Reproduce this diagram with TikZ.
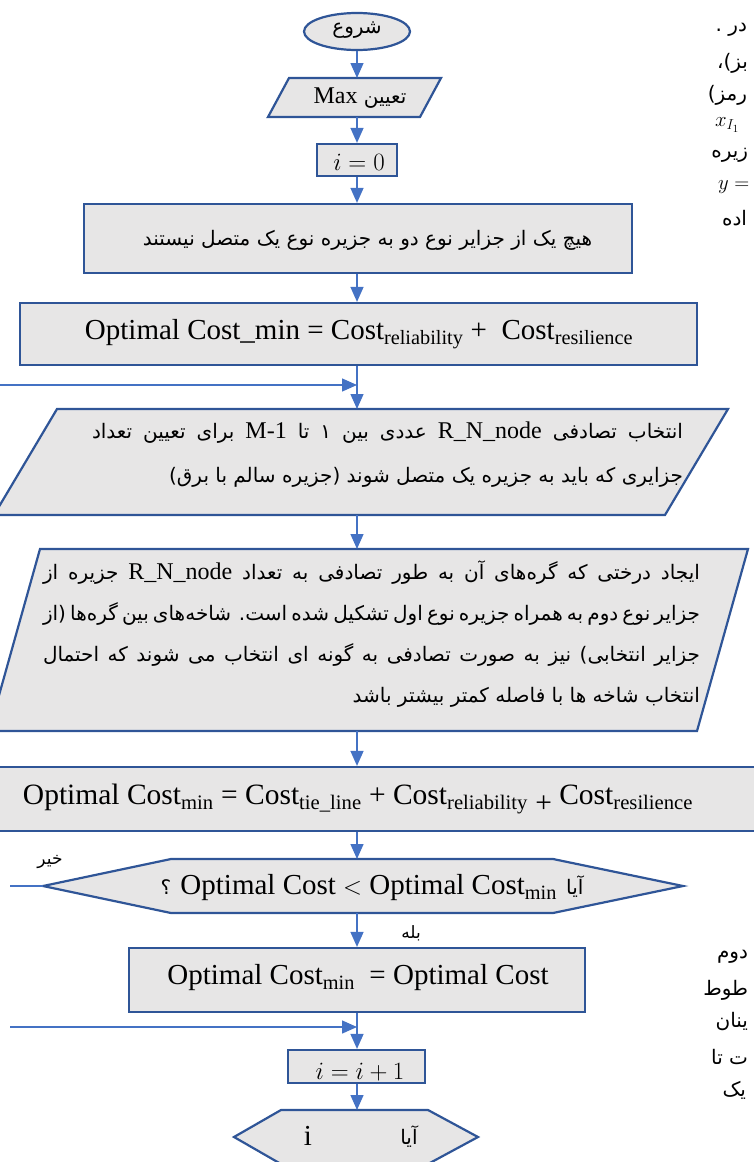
\documentclass[tikz,border=0pt]{standalone}
\usepackage{fontspec}
\setmainfont{Liberation Serif}
\newfontfamily\fa[Script=Arabic]{DejaVu Sans}
\newfontfamily\latf[Scale=1.2]{Liberation Serif}
\TeXXeTstate=1
\usetikzlibrary{arrows.meta,shapes.geometric}

\definecolor{linkblue}{HTML}{4472C4}
\definecolor{bordblue}{HTML}{2F5597}
\definecolor{boxgray}{HTML}{E7E6E6}

\newcommand{\mylat}[1]{\beginL{\latf #1}\endL{}}
\newcommand{\mylatn}[1]{\beginL{\rmfamily #1}\endL{}}
\newcommand{\rjust}[2]{\hbox to #1{\fa\spaceskip=\fontdimen2\font plus 1fil minus 0.5\fontdimen2\font\relax #2}}
\newcommand{\rlast}[2]{\hbox to #1{\hfill\fa #2}}
\newcommand{\fasize}{\fontsize{20}{24}\selectfont}
\newcommand{\lasize}{\fontsize{29}{34}\selectfont}

\begin{document}
\begin{tikzpicture}[x=1pt,y=-1pt,
  shp/.style={draw=bordblue, line width=2.2pt, fill=boxgray, inner sep=0pt},
  link/.style={draw=linkblue, line width=1.4pt, -{Triangle[length=15pt,width=13pt]}},
  plainlink/.style={draw=linkblue, line width=1.4pt},
  anc/.style={inner sep=0pt, outer sep=0pt},
  txt/.style={inner sep=0pt, outer sep=0pt, text=black},
  frag/.style={inner sep=0pt, outer sep=0pt, anchor=east, font=\fontsize{20}{24}\selectfont}
]
\useasboundingbox (0,0) rectangle (754,1162);
\clip (0,0) rectangle (754,1162);

% start
\node[shp, ellipse, minimum width=106pt, minimum height=37pt] (start) at (357,31.5) {};
\node[txt] (tstart) at (357,30) {\fasize\fa\beginR شروع\endR};

% input Max
\draw[shp] (289,78) -- (441,78) -- (420,117) -- (268,117) -- cycle;
\node[anc, minimum width=150pt, minimum height=39pt] (in1) at (357,97.5) {};
\node[txt] (tin1) at (360,98) {\fasize\fa\beginR تعیین \mylat{Max}\endR};

% i = 0
\node[shp, minimum width=80pt, minimum height=32pt] (b0) at (357,160) {};
\node[txt] (tb0) at (359,162) {\fontsize{27}{30}\selectfont$i=0$};

% box 3
\node[shp, minimum width=548pt, minimum height=69pt] (b3) at (358,238.5) {};
\node[txt] (tb3) at (367.5,240) {\fasize\fa\beginR هیچ یک از جزایر نوع دو به جزیره نوع یک متصل نیستند\endR};

% box 4
\node[shp, minimum width=677pt, minimum height=62pt] (b4) at (358.5,334) {};
\node[txt] (tb4) at (359,334) {\lasize Optimal Cost\_min = Cost\textsubscript{reliability} +\ \ Cost\textsubscript{resilience}};

\coordinate (j1) at (357,385);
\coordinate (l1) at (0,385);

% parallelogram 5
\draw[shp] (57,409) -- (728,409) -- (665,515) -- (-6,515) -- cycle;
\node[anc, minimum width=600pt, minimum height=106pt] (p5) at (357,462) {};
\node[txt, anchor=east] (t5a) at (683,433) {\fasize\rjust{591pt}{\beginR انتخاب تصادفی \mylat{R\_N\_node} عددی بین ۱ تا \mylat{M-1} برای تعیین تعداد\endR}};
\node[txt, anchor=east] (t5b) at (683,477) {\fasize\rlast{591pt}{\beginR جزایری که باید به جزیره یک متصل شوند (جزیره سالم با برق)\endR}};

% parallelogram 6
\draw[shp] (40,549) -- (748,549) -- (697,731) -- (-11,731) -- cycle;
\node[anc, minimum width=600pt, minimum height=182pt] (p6) at (357,640) {};
\node[txt, anchor=east] (t6a) at (700,573) {\fasize\rjust{657pt}{\beginR ایجاد درختی که گره‌های آن به طور تصادفی به تعداد \mylat{R\_N\_node} جزیره از\endR}};
\node[txt, anchor=east] (t6b) at (700,614) {\fasize\rjust{657pt}{\beginR جزایر نوع دوم به همراه جزیره نوع اول تشکیل شده است. شاخه‌های بین گره‌ها (از\endR}};
\node[txt, anchor=east] (t6c) at (700,655) {\fasize\rjust{657pt}{\beginR جزایر انتخابی) نیز به صورت تصادفی به گونه ای انتخاب می شوند که احتمال\endR}};
\node[txt, anchor=east] (t6d) at (700,697) {\fasize\rlast{657pt}{\beginR انتخاب شاخه ها با فاصله کمتر بیشتر باشد\endR}};

% box 7
\node[shp, minimum width=770pt, minimum height=64pt] (b7) at (377,799) {};
\node[txt] (tb7) at (358,799) {\fontsize{29.5}{34}\selectfont Optimal Cost\textsubscript{min} = Cost\textsubscript{tie\_line} + Cost\textsubscript{reliability} \raisebox{-0.3em}{+} Cost\textsubscript{resilience}};

% decision 1
\draw[shp] (43,886) -- (171,859) -- (553,859) -- (683,886) -- (553,913) -- (171,913) -- cycle;
\node[anc, minimum width=640pt, minimum height=54pt] (d1) at (363,886) {};
\node[txt] (td1) at (372,888) {\lasize\fa\beginR{\fasize آیا} \mylatn{Optimal Cost $<$ Optimal Cost\textsubscript{min}} {\fasize ؟}\endR};
\coordinate (l0) at (10,886);
\node[txt] (tno) at (50,862) {\fontsize{17}{20}\selectfont\fa\beginR خیر\endR};
\node[txt] (tyes) at (411,933) {\fontsize{17}{20}\selectfont\fa\beginR بله\endR};

% box 8
\node[shp, minimum width=456pt, minimum height=64pt] (b8) at (357,980) {};
\node[txt] (tb8) at (358,978) {\lasize Optimal Cost\textsubscript{min}\ \ = Optimal Cost};

\coordinate (j2) at (357,1027);
\coordinate (l2) at (10,1027);

% box 9
\node[shp, minimum width=137pt, minimum height=33pt] (b9) at (356.5,1066.5) {};
\node[txt] (tb9) at (360,1072) {\fontsize{26}{30}\selectfont$i=i+1$};

% decision 2
\draw[shp] (234,1137) -- (281,1110) -- (428,1110) -- (478,1137) -- (428,1164) -- (281,1164) -- cycle;
\node[anc, minimum width=244pt, minimum height=54pt] (d2) at (356,1137) {};
\node[txt] (td2a) at (409,1137) {\fasize\fa\beginR آیا\endR};
\node[txt] (td2b) at (308,1136) {\lasize i};

% connectors
\draw[link] (start.south) -- (in1.north);
\draw[link] (in1.south) -- (b0.north);
\draw[link] (b0.south) -- (b3.north -| b0.south);
\draw[link] (b3.south -| b0.south) -- (b4.north -| b0.south);
\draw[link] (b4.south -| b0.south) -- (p5.north);
\draw[link] (l1) -- (j1);
\draw[link] (p5.south) -- (p6.north);
\draw[link] (p6.south) -- (b7.north -| p6.south);
\draw[link] (b7.south -| p6.south) -- (d1.north -| p6.south);
\draw[plainlink] (d1.west) -- (l0);
\draw[link] (d1.south -| p6.south) -- (b8.north -| p6.south);
\draw[link] (b8.south) -- (b9.north -| b8.south);
\draw[link] (l2) -- (j2);
\draw[link] (b9.south -| b8.south) -- (d2.north -| b8.south);

% fragments of page text at the right edge
\node[frag] (f1) at (747,30) {\fa\beginR در .\endR};
\node[frag] (f2) at (748,63) {\fa\beginR بز)،\endR};
\node[frag] (f3) at (747,95) {\fa\beginR رمز)\endR};
\node[frag, anchor=west] (f4) at (715,125) {\fontsize{22}{26}\selectfont$x_{I_1}$};
\node[frag] (f5) at (748,155) {\fa\beginR زیره\endR};
\node[frag, anchor=west] (f6) at (718,187) {\fontsize{22}{26}\selectfont$y =$};
\node[frag] (f7) at (747,218) {\fa\beginR اده\endR};
\node[frag] (f8) at (748,957) {\fa\beginR دوم\endR};
\node[frag] (f9) at (748,990) {\fa\beginR طوط\endR};
\node[frag] (f10) at (748,1022) {\fa\beginR ینان\endR};
\node[frag] (f11) at (748,1057) {\fa\beginR ت تا\endR};
\node[frag] (f12) at (746,1090) {\fa\beginR یک\endR};
\end{tikzpicture}
\end{document}
